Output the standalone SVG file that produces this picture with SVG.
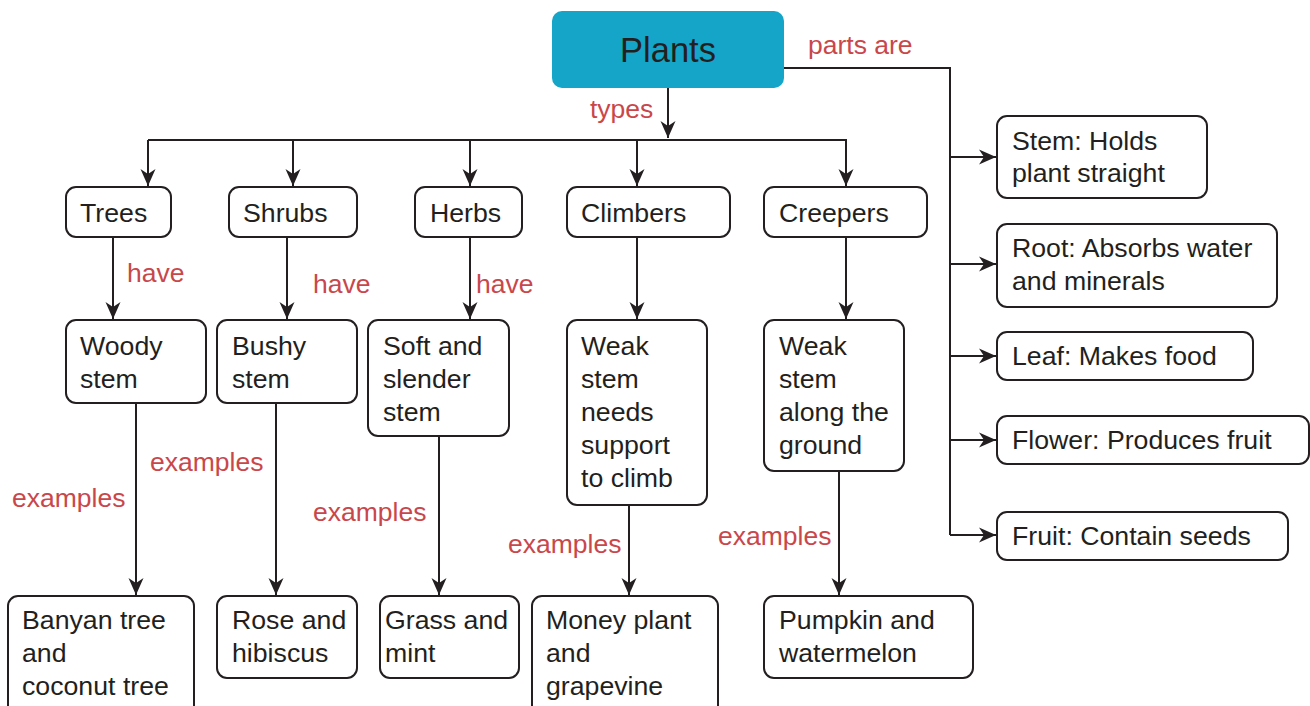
<svg xmlns="http://www.w3.org/2000/svg" width="1310" height="706" viewBox="0 0 1310 706">
<style>
.box{fill:#fff;stroke:#231F20;stroke-width:2}
.t{font-family:"Liberation Sans",Arial,sans-serif;font-size:26.7px;fill:#231F20}
.l{font-family:"Liberation Sans",Arial,sans-serif;font-size:26.5px;fill:#C9474B}
.c{fill:none;stroke:#231F20;stroke-width:2}
</style>
<defs>
<marker id="ah" markerUnits="userSpaceOnUse" markerWidth="20" markerHeight="20" viewBox="-18 -10 20 20" refX="0" refY="0" orient="auto">
<path d="M-17,-7.5 L0,0 L-17,7.5 L-12,0 z" fill="#231F20"/>
</marker>
</defs>
<rect width="1310" height="706" fill="#fff"/>
<g id="connectors">
<path class="c" d="M668,88 V138" marker-end="url(#ah)"/>
<path class="c" d="M148,140 H847"/>
<path class="c" d="M148,140 V186" marker-end="url(#ah)"/>
<path class="c" d="M293,140 V186" marker-end="url(#ah)"/>
<path class="c" d="M470,140 V186" marker-end="url(#ah)"/>
<path class="c" d="M637,140 V186" marker-end="url(#ah)"/>
<path class="c" d="M846,140 V186" marker-end="url(#ah)"/>
<path class="c" d="M113,237 V319" marker-end="url(#ah)"/>
<path class="c" d="M287,237 V319" marker-end="url(#ah)"/>
<path class="c" d="M470,237 V319" marker-end="url(#ah)"/>
<path class="c" d="M637,237 V319" marker-end="url(#ah)"/>
<path class="c" d="M846,237 V319" marker-end="url(#ah)"/>
<path class="c" d="M136,403 V595" marker-end="url(#ah)"/>
<path class="c" d="M276,403 V595" marker-end="url(#ah)"/>
<path class="c" d="M439,436 V595" marker-end="url(#ah)"/>
<path class="c" d="M629,505 V595" marker-end="url(#ah)"/>
<path class="c" d="M839,471 V595" marker-end="url(#ah)"/>
<path class="c" d="M784,68 H950 V535"/>
<path class="c" d="M950,157 H996" marker-end="url(#ah)"/>
<path class="c" d="M950,264 H996" marker-end="url(#ah)"/>
<path class="c" d="M950,356 H996" marker-end="url(#ah)"/>
<path class="c" d="M950,440 H996" marker-end="url(#ah)"/>
<path class="c" d="M950,535 H996" marker-end="url(#ah)"/>
<text class="l" x="808" y="54">parts are</text>
<text class="l" x="590" y="118">types</text>
<text class="l" x="127" y="282">have</text>
<text class="l" x="313" y="293">have</text>
<text class="l" x="476" y="293">have</text>
<text class="l" x="12" y="507">examples</text>
<text class="l" x="150" y="471">examples</text>
<text class="l" x="313" y="521">examples</text>
<text class="l" x="508" y="553">examples</text>
<text class="l" x="718" y="545">examples</text>
</g>
<g id="plants">
<rect x="552" y="11" width="232" height="77" rx="10" fill="#14A5C8"/>
<text class="t" x="668" y="62" text-anchor="middle" style="font-size:34.5px">Plants</text>
</g>
<g id="trees"><rect class="box" x="66" y="187" width="105" height="50" rx="10"/><text class="t" x="80" y="222">Trees</text></g>
<g id="shrubs"><rect class="box" x="229" y="187" width="128" height="50" rx="10"/><text class="t" x="243" y="222">Shrubs</text></g>
<g id="herbs"><rect class="box" x="415" y="187" width="107" height="50" rx="10"/><text class="t" x="430" y="222">Herbs</text></g>
<g id="climbers"><rect class="box" x="567" y="187" width="163" height="50" rx="10"/><text class="t" x="581" y="222">Climbers</text></g>
<g id="creepers"><rect class="box" x="764" y="187" width="163" height="50" rx="10"/><text class="t" x="779" y="222">Creepers</text></g>
<g id="woody"><rect class="box" x="66" y="320" width="140" height="83" rx="10"/><text class="t" x="80" y="355">Woody<tspan x="80" dy="33">stem</tspan></text></g>
<g id="bushy"><rect class="box" x="217" y="320" width="140" height="83" rx="10"/><text class="t" x="232" y="355">Bushy<tspan x="232" dy="33">stem</tspan></text></g>
<g id="soft"><rect class="box" x="368" y="320" width="141" height="116" rx="10"/><text class="t" x="383" y="355">Soft and<tspan x="383" dy="33">slender</tspan><tspan x="383" dy="33">stem</tspan></text></g>
<g id="weak-climb"><rect class="box" x="567" y="320" width="140" height="185" rx="10"/><text class="t" x="581" y="355">Weak<tspan x="581" dy="33">stem</tspan><tspan x="581" dy="33">needs</tspan><tspan x="581" dy="33">support</tspan><tspan x="581" dy="33">to climb</tspan></text></g>
<g id="weak-ground"><rect class="box" x="764" y="320" width="140" height="151" rx="10"/><text class="t" x="779" y="355">Weak<tspan x="779" dy="33">stem</tspan><tspan x="779" dy="33">along the</tspan><tspan x="779" dy="33">ground</tspan></text></g>
<g id="banyan"><rect class="box" x="8" y="596" width="186" height="130" rx="10"/><text class="t" x="22" y="629">Banyan tree<tspan x="22" dy="33">and</tspan><tspan x="22" dy="33">coconut tree</tspan></text></g>
<g id="rose"><rect class="box" x="217" y="596" width="140" height="82" rx="10"/><text class="t" x="232" y="629">Rose and<tspan x="232" dy="33">hibiscus</tspan></text></g>
<g id="grass"><rect class="box" x="380" y="596" width="139" height="82" rx="10"/><text class="t" x="385" y="629">Grass and<tspan x="385" dy="33">mint</tspan></text></g>
<g id="money"><rect class="box" x="532" y="596" width="186" height="130" rx="10"/><text class="t" x="546" y="629">Money plant<tspan x="546" dy="33">and</tspan><tspan x="546" dy="33">grapevine</tspan></text></g>
<g id="pumpkin"><rect class="box" x="764" y="596" width="209" height="82" rx="10"/><text class="t" x="779" y="629">Pumpkin and<tspan x="779" dy="33">watermelon</tspan></text></g>
<g id="stem"><rect class="box" x="997" y="116" width="210" height="82" rx="10"/><text class="t" x="1012" y="150">Stem: Holds<tspan x="1012" dy="32">plant straight</tspan></text></g>
<g id="root"><rect class="box" x="997" y="224" width="280" height="83" rx="10"/><text class="t" x="1012" y="257">Root: Absorbs water<tspan x="1012" dy="33">and minerals</tspan></text></g>
<g id="leaf"><rect class="box" x="997" y="332" width="256" height="48" rx="10"/><text class="t" x="1012" y="365">Leaf: Makes food</text></g>
<g id="flower"><rect class="box" x="997" y="416" width="312" height="48" rx="10"/><text class="t" x="1012" y="449">Flower: Produces fruit</text></g>
<g id="fruit"><rect class="box" x="997" y="512" width="291" height="48" rx="10"/><text class="t" x="1012" y="545">Fruit: Contain seeds</text></g>
</svg>
